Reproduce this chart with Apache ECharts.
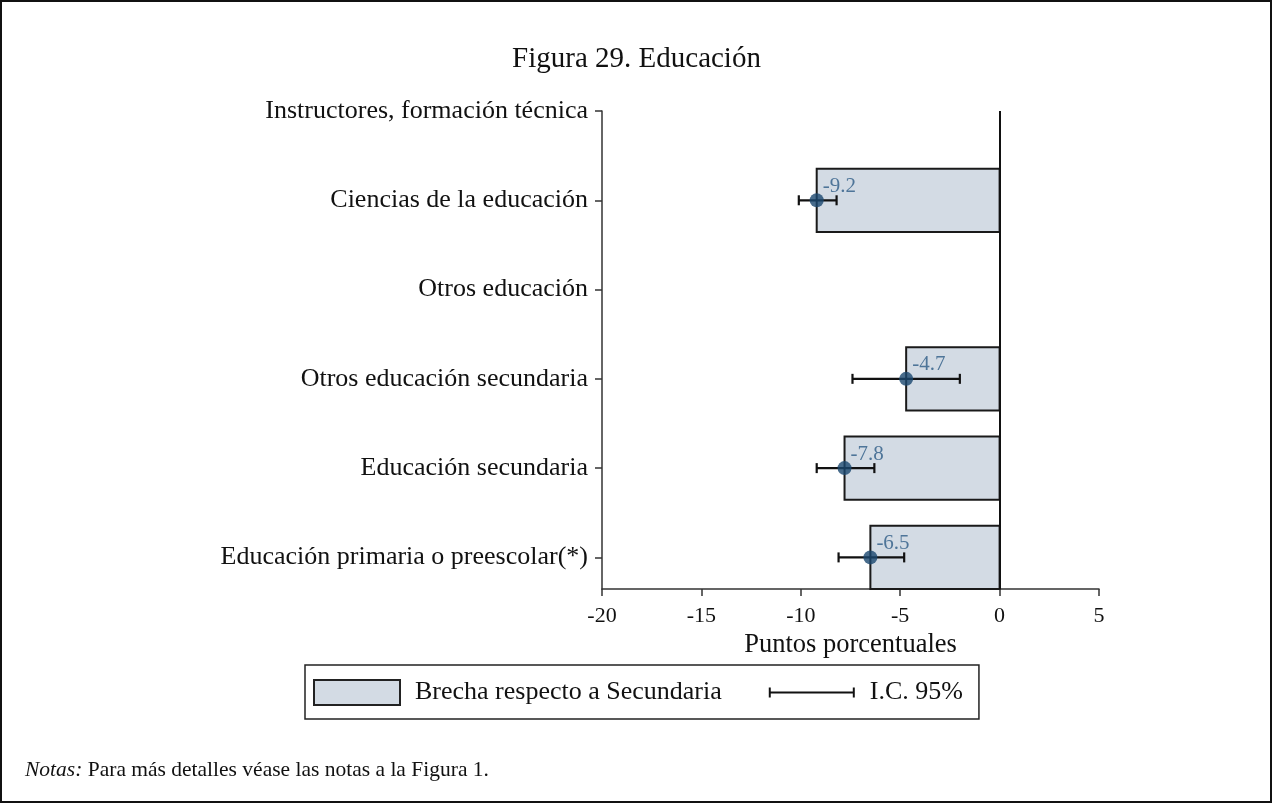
<!DOCTYPE html>
<html>
<head>
<meta charset="utf-8">
<script src="https://cdn.jsdelivr.net/npm/echarts@6/dist/echarts.min.js"></script>
<style>
  html, body { margin: 0; padding: 0; background: #fff; }
  #chart { width: 1273px; height: 804px; }
</style>
</head>
<body>
<div id="chart"></div>
<script>
// Categories, listed from the bottom row to the top row
const categories = [
  'Educación primaria o preescolar(*)',
  'Educación secundaria',
  'Otros educación secundaria',
  'Otros educación',
  'Ciencias de la educación',
  'Instructores, formación técnica'
];
// Gap with respect to secondary education (percentage points); null = no estimate
const gapValues = [-6.5, -7.8, -4.7, null, -9.2, null];
// 95% confidence interval bounds
const ciLow  = [-8.1, -9.2, -7.4, null, -10.1, null];
const ciHigh = [-4.8, -6.3, -2.0, null, -8.2, null];
// X axis ticks
const xTicks = [-20, -15, -10, -5, 0, 5];

const FONT = 'Liberation Serif';
const BAR_FILL = '#d3dbe4';
const NAVY = '#1a476f';
const BAR_HALF = 0.354; // half bar thickness in row units

const barData = [], ciData = [], dotData = [];
categories.forEach((c, i) => {
  if (gapValues[i] === null) return;
  barData.push([gapValues[i], i]);
  ciData.push([ciLow[i], ciHigh[i], i]);
  dotData.push([gapValues[i], i]);
});

const chart = echarts.init(document.getElementById('chart'), null, { renderer: 'canvas' });

chart.setOption({
  backgroundColor: '#ffffff',
  animation: false,
  title: {
    text: 'Figura 29. Educación',
    left: 'center',
    top: 40,
    textStyle: { fontFamily: FONT, fontSize: 29, fontWeight: 'normal', color: '#111' }
  },
  grid: { left: 602, right: 174, top: 111, bottom: 215 },
  xAxis: {
    type: 'value',
    min: xTicks[0],
    max: xTicks[xTicks.length - 1],
    interval: 5,
    name: 'Puntos porcentuales',
    nameLocation: 'middle',
    nameGap: 41,
    nameTextStyle: { fontFamily: FONT, fontSize: 26.5, color: '#111' },
    axisLine: { show: true, onZero: false, lineStyle: { color: '#333', width: 1.5 } },
    axisTick: { show: true, length: 7, lineStyle: { color: '#333', width: 1.5 } },
    axisLabel: { fontFamily: FONT, fontSize: 22, color: '#111', margin: 16 },
    splitLine: { show: false }
  },
  yAxis: {
    type: 'value',
    min: -BAR_HALF,
    max: categories.length - 1,
    axisLine: { show: true, onZero: false, lineStyle: { color: '#333', width: 1.5 } },
    axisTick: { show: true, length: 7, customValues: categories.map((c, i) => i), lineStyle: { color: '#333', width: 1.5 } },
    axisLabel: {
      fontFamily: FONT, fontSize: 26, color: '#111', margin: 14,
      padding: [6, 0, 0, 0],
      customValues: categories.map((c, i) => i),
      formatter: v => categories[Math.round(v)] || ''
    },
    splitLine: { show: false }
  },
  legend: {
    left: 305,
    top: 665,
    orient: 'horizontal',
    borderColor: '#222',
    borderWidth: 1.5,
    borderRadius: 0,
    padding: [14, 16, 13, 8],
    itemGap: 47,
    itemWidth: 86,
    itemHeight: 25,
    selectedMode: false,
    textStyle: { fontFamily: FONT, fontSize: 26, color: '#111', padding: [0, 0, 0, 10] },
    data: [
      { name: 'Brecha respecto a Secundaria', icon: 'rect',
        itemStyle: { color: BAR_FILL, borderColor: '#222', borderWidth: 2 } },
      { name: 'I.C. 95%',
        icon: 'path://M0,0h0.01v0.01h-0.01z M0,7.5h2v10h-2z M0,11.5h87v2h-87z M85,7.5h2v10h-2z M86.99,24.99h0.01v0.01h-0.01z',
        itemStyle: { color: '#111', borderWidth: 0 } }
    ]
  },
  graphic: [
    {
      type: 'rect',
      shape: { x: 1, y: 1, width: 1270, height: 801 },
      style: { fill: 'none', stroke: '#111', lineWidth: 2 },
      silent: true
    },
    {
      type: 'text',
      left: 25,
      top: 759,
      style: {
        text: '{i|Notas:} Para más detalles véase las notas a la Figura 1.',
        font: '21.5px "Liberation Serif"',
        fill: '#111',
        rich: {
          i: { fontStyle: 'italic', fontFamily: FONT, fontSize: 21.5, fill: '#111' }
        }
      }
    }
  ],
  series: [
    {
      name: 'Brecha respecto a Secundaria',
      type: 'custom',
      itemStyle: { color: BAR_FILL, borderColor: '#222', borderWidth: 2 },
      renderItem: (params, api) => {
        const v = api.value(0), y = api.value(1);
        const a = api.coord([0, y + BAR_HALF]);
        const b = api.coord([v, y - BAR_HALF]);
        return {
          type: 'rect',
          shape: { x: Math.min(a[0], b[0]), y: a[1], width: Math.abs(b[0] - a[0]), height: b[1] - a[1] },
          style: { fill: BAR_FILL, stroke: '#1a1a1a', lineWidth: 2 }
        };
      },
      encode: { x: 0, y: 1 },
      data: barData,
      markLine: {
        silent: true,
        symbol: ['none', 'none'],
        label: { show: false },
        lineStyle: { color: '#111', width: 2, type: 'solid' },
        data: [{ xAxis: 0 }]
      },
      z: 2
    },
    {
      name: 'I.C. 95%',
      type: 'custom',
      itemStyle: { color: '#111' },
      renderItem: (params, api) => {
        const lo = api.coord([api.value(0), api.value(2)]);
        const hi = api.coord([api.value(1), api.value(2)]);
        const cap = 5;
        const st = { stroke: '#111', lineWidth: 2.2 };
        return {
          type: 'group',
          children: [
            { type: 'line', shape: { x1: lo[0], y1: lo[1], x2: hi[0], y2: hi[1] }, style: st },
            { type: 'line', shape: { x1: lo[0], y1: lo[1] - cap, x2: lo[0], y2: lo[1] + cap }, style: st },
            { type: 'line', shape: { x1: hi[0], y1: hi[1] - cap, x2: hi[0], y2: hi[1] + cap }, style: st }
          ]
        };
      },
      encode: { x: [0, 1], y: 2 },
      data: ciData,
      z: 3
    },
    {
      name: 'Estimación',
      type: 'scatter',
      symbol: 'circle',
      symbolSize: 14,
      itemStyle: { color: NAVY },
      label: {
        show: true,
        position: 'right',
        distance: 0,
        offset: [-1, -14],
        formatter: p => String(p.value[0]),
        fontFamily: FONT,
        fontSize: 21,
        color: '#2d5b86'
      },
      data: dotData,
      z: 4
    }
  ]
});
</script>
</body>
</html>
